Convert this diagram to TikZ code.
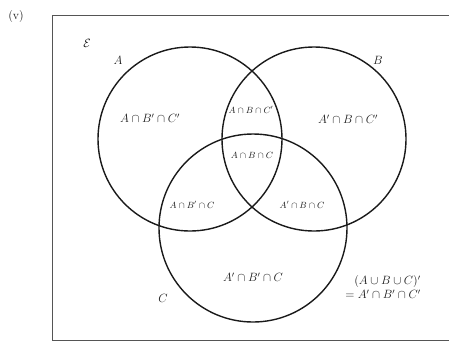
\documentclass[tikz,border=0pt]{standalone}
\usepackage{amsmath, amssymb}
\usepackage{xcolor}
\usepackage{tikz}
\usetikzlibrary{positioning}
\definecolor{mInk}{HTML}{1A1A1A}
\definecolor{mFrame}{HTML}{555555}

\begin{document}
\begin{tikzpicture}[x=1pt, y=-1pt, font=\fontsize{11}{13}\selectfont,
  set/.style={draw=mInk, line width=1.4pt},
  frame/.style={draw=mFrame, line width=0.9pt},
  big/.style={inner sep=0pt, text=mInk, font=\fontsize{12}{14}\selectfont},
  small/.style={inner sep=0pt, text=mInk, font=\fontsize{9}{11}\selectfont}]
\useasboundingbox (0,0) rectangle (449,341);
% frame of the universal set (right side runs off the page)
\draw[frame] (470,15) -- (52,15) -- (52,340) -- (470,340);
\coordinate (cA) at (190,139);
\coordinate (cB) at (314,139);
\coordinate (cC) at (253,228);
\draw[set] (cA) circle[radius=92pt];
\draw[set] (cB) circle[radius=92pt];
\draw[set] (cC) circle[radius=94pt];
\node[big] (lv) at (16,17) {(v)};
\node[big] (lE) at (87,43) {$\mathcal{E}$};
\node[big] (lA) at (118,60) {$A$};
\node[big] (lB) at (378,60) {$B$};
\node[big] (lC) at (163,298) {$C$};
\node[big] (rA) at (150,118) {$A\cap B'\cap C'$};
\node[small] (rAB) at (251,110) {$A\cap B\cap C'$};
\node[big] (rB) at (348,119) {$A'\cap B\cap C'$};
\node[small] (rABC) at (252,155) {$A\cap B\cap C$};
\node[small] (rAC) at (192,205) {$A\cap B'\cap C$};
\node[small] (rBC) at (302,205) {$A'\cap B\cap C$};
\node[big] (rC) at (253,277) {$A'\cap B'\cap C$};
\node[big, align=right] (rOut) at (383,287) {$(A\cup B\cup C)'$\\$=A'\cap B'\cap C'$};
\end{tikzpicture}
\end{document}
